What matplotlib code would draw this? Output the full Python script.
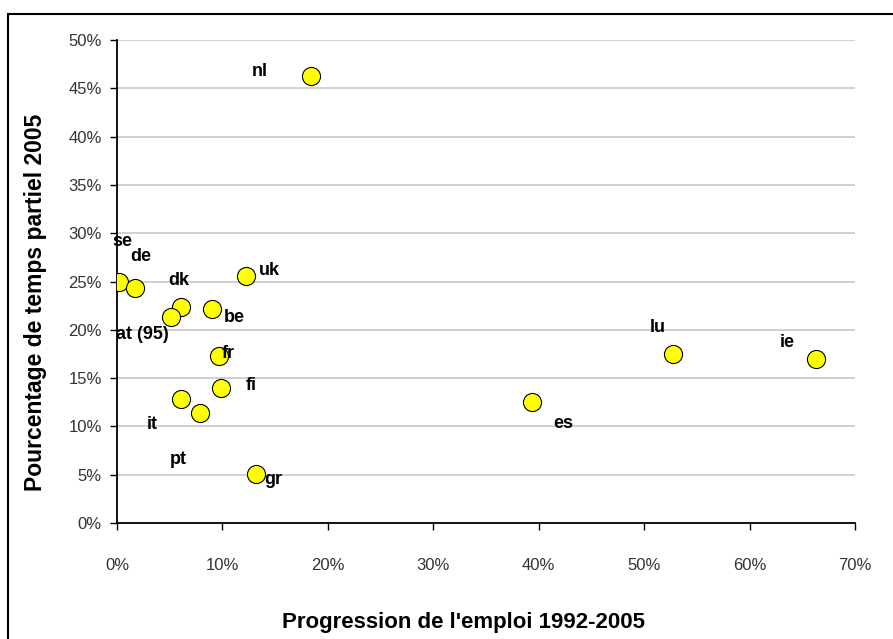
import matplotlib
matplotlib.use("Agg")
from matplotlib import pyplot as plt
from matplotlib.patches import Rectangle
from matplotlib.ticker import PercentFormatter

plt.rcParams['font.family'] = ['Liberation Sans', 'DejaVu Sans']

# country codes, employment growth 1992-2005 (%), part-time share 2005 (%)
countries = ['nl', 'se', 'de', 'dk', 'at (95)', 'be', 'uk', 'fr', 'fi', 'it', 'pt', 'gr', 'es', 'lu', 'ie']
growth = [18.4, 0.2, 1.7, 6.1, 5.1, 9.0, 12.2, 9.7, 9.9, 6.1, 7.9, 13.2, 39.4, 52.7, 66.3]
part_time = [46.3, 24.9, 24.3, 22.4, 21.3, 22.2, 25.6, 17.3, 14.0, 12.8, 11.4, 5.1, 12.5, 17.5, 17.0]

# label offsets in pixels (dx, dy)
offsets = [(-51, 4), (3, 41), (6, 32), (-3, 26), (-28, -17), (22, -9), (24, 5), (9, 2),
           (30, 2), (-29, -25), (-22, -47), (17, -6), (31, -21), (-15, 26), (-29, 16)]

fig = plt.figure(figsize=(8.93, 6.39), dpi=100)
ax = fig.add_axes([0.131, 0.1815, 0.8265, 0.7559])

ax.scatter(growth, part_time, s=170, c='#FFFF00', edgecolors='black', linewidths=0.8, zorder=3)
for name, x, y, (dx, dy) in zip(countries, growth, part_time, offsets):
    ax.annotate(name, (x, y), xytext=(dx, dy), textcoords='offset pixels',
                ha='center', va='center', fontsize=13, fontweight='bold', zorder=4)

ax.set_xlim(0, 70)
ax.set_ylim(0, 50)
ax.set_xticks(range(0, 71, 10))
ax.set_yticks(range(0, 51, 5))
ax.xaxis.set_major_formatter(PercentFormatter(decimals=0))
ax.yaxis.set_major_formatter(PercentFormatter(decimals=0))
ax.tick_params(axis='both', labelsize=12, length=5, width=1, color='black', labelcolor='#333333')
ax.tick_params(axis='x', pad=20)
ax.tick_params(axis='y', pad=6)

ax.grid(axis='y', color='#c8c8c8', linewidth=1.2)
ax.set_axisbelow(True)
for side in ['top', 'right']:
    ax.spines[side].set_visible(False)
for side in ['left', 'bottom']:
    ax.spines[side].set_linewidth(1.3)

ax.set_xlabel("Progression de l'emploi 1992-2005", fontsize=16, fontweight='bold')
ax.xaxis.set_label_coords(0.47, -0.185)
ax.set_ylabel("Pourcentage de temps partiel 2005", fontsize=16.5, fontweight='bold')
ax.yaxis.set_label_coords(-0.095, 0.457)

fig.patches.append(Rectangle((8 / 893, -0.01), 1.0, 1 - 14 / 639 + 0.01, transform=fig.transFigure,
                             fill=False, edgecolor='black', linewidth=1.5))

fig.savefig('out.png', dpi=100)
